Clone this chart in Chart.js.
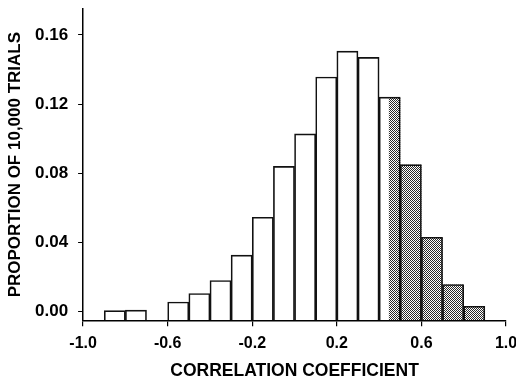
<!DOCTYPE html>
<html>
<head>
<meta charset="utf-8">
<script src="https://cdn.jsdelivr.net/npm/chart.js@4"></script>
<style>
    html, body { margin: 0; padding: 0; background: #fff; }
    #wrap { width: 516px; height: 377px; }
</style>
</head>
<body>
<div id="wrap"><canvas id="chartHist"></canvas></div>
<script>
// bins of width 0.1, from -1.0 to 1.0 (left edges)
const binStarts = [-1.0, -0.9, -0.8, -0.7, -0.6, -0.5, -0.4, -0.3, -0.2, -0.1,
                   0.0, 0.1, 0.2, 0.3, 0.4, 0.5, 0.6, 0.7, 0.8, 0.9];
const proportions = [null, 0.0006, 0.0009, null, 0.0056, 0.0105, 0.018, 0.0327, 0.0546, 0.084,
                     0.1028, 0.1357, 0.1506, 0.147, 0.124, 0.085, 0.043, 0.0157, 0.0031, null];
const binWidth = 0.1;
const critical = 0.445;   // shaded tail starts here
const xTicks = [-1.0, -0.6, -0.2, 0.2, 0.6, 1.0];
const yTicks = [0.00, 0.04, 0.08, 0.12, 0.16];
const yMin = -0.005, yMax = 0.175;

// ---- stipple pattern for the shaded tail
function makePattern() {
    const c = document.createElement('canvas');
    c.width = 2; c.height = 2;
    const g = c.getContext('2d');
    g.fillStyle = '#fff';
    g.fillRect(0, 0, 2, 2);
    g.fillStyle = '#2a2a2a';
    g.fillRect(0, 0, 1, 1);
    g.fillRect(1, 1, 1, 1);
    return g.createPattern(c, 'repeat');
}

// bars at the centre of each bin
const barData = binStarts.map((s, i) => ({ x: s + binWidth / 2, y: proportions[i] }));

// stepped outline of the tail, from the critical value to the end
const tailData = [];
let lastTail = -1;
binStarts.forEach((s, i) => {
    const v = proportions[i];
    if (v === null) return;
    if (s <= critical && s + binWidth > critical) { tailData.push({ x: critical, y: v }); lastTail = i; }
    else if (s > critical) { tailData.push({ x: s, y: v }); lastTail = i; }
});
tailData.push({ x: binStarts[lastTail] + binWidth, y: proportions[lastTail] });

const fontFamily = 'Arial, "Liberation Sans", sans-serif';

new Chart(document.getElementById('chartHist'), {
    type: 'bar',
    data: {
        datasets: [
            {
                type: 'bar',
                data: barData,
                backgroundColor: 'rgba(255,255,255,0)',
                borderColor: '#111',
                borderWidth: 1,
                barPercentage: 1,
                categoryPercentage: 1,
                base: yMin,
                order: 1
            },
            {
                type: 'line',
                data: tailData,
                stepped: 'before',
                borderWidth: 0,
                pointRadius: 0,
                backgroundColor: makePattern(),
                fill: { value: yMin },
                order: 2
            }
        ]
    },
    options: {
        responsive: true,
        maintainAspectRatio: false,
        animation: false,
        layout: { padding: { left: 7, right: 0, top: 9, bottom: -3 } },
        plugins: {
            legend: { display: false },
            tooltip: { enabled: false }
        },
        scales: {
            x: {
                type: 'linear',
                offset: false,
                min: -1.0,
                max: 1.0,
                afterBuildTicks: (scale) => { scale.ticks = xTicks.map(v => ({ value: v })); },
                afterFit: (scale) => { scale.paddingRight = 10; },
                ticks: {
                    color: '#000',
                    font: { family: fontFamily, size: 16, weight: 'bold' },
                    padding: 8,
                    maxRotation: 0,
                    callback: (v) => Number(v).toFixed(1)
                },
                grid: { offset: false, drawOnChartArea: false, drawTicks: true, tickLength: 6, color: '#000', lineWidth: 1.2 },
                border: { display: true, color: '#000', width: 1.5 },
                title: {
                    display: true,
                    text: 'CORRELATION COEFFICIENT',
                    color: '#000',
                    font: { family: fontFamily, size: 17.5, weight: 'bold', lineHeight: 1 },
                    padding: { top: 1, bottom: 0 }
                }
            },
            y: {
                min: yMin,
                max: yMax,
                afterBuildTicks: (scale) => { scale.ticks = yTicks.map(v => ({ value: v })); },
                afterFit: (scale) => { scale.paddingTop = 0; },
                ticks: {
                    color: '#000',
                    font: { family: fontFamily, size: 17, weight: 'bold' },
                    padding: 10,
                    callback: (v) => Number(v).toFixed(2)
                },
                grid: { drawOnChartArea: false, drawTicks: true, tickLength: 5, color: '#000', lineWidth: 1 },
                border: { display: true, color: '#000', width: 1.5 },
                title: {
                    display: true,
                    text: 'PROPORTION OF 10,000 TRIALS',
                    color: '#000',
                    font: { family: fontFamily, size: 17, weight: 'bold', lineHeight: 1 },
                    padding: { top: 0, bottom: 1 }
                }
            }
        }
    }
});
</script>
</body>
</html>
